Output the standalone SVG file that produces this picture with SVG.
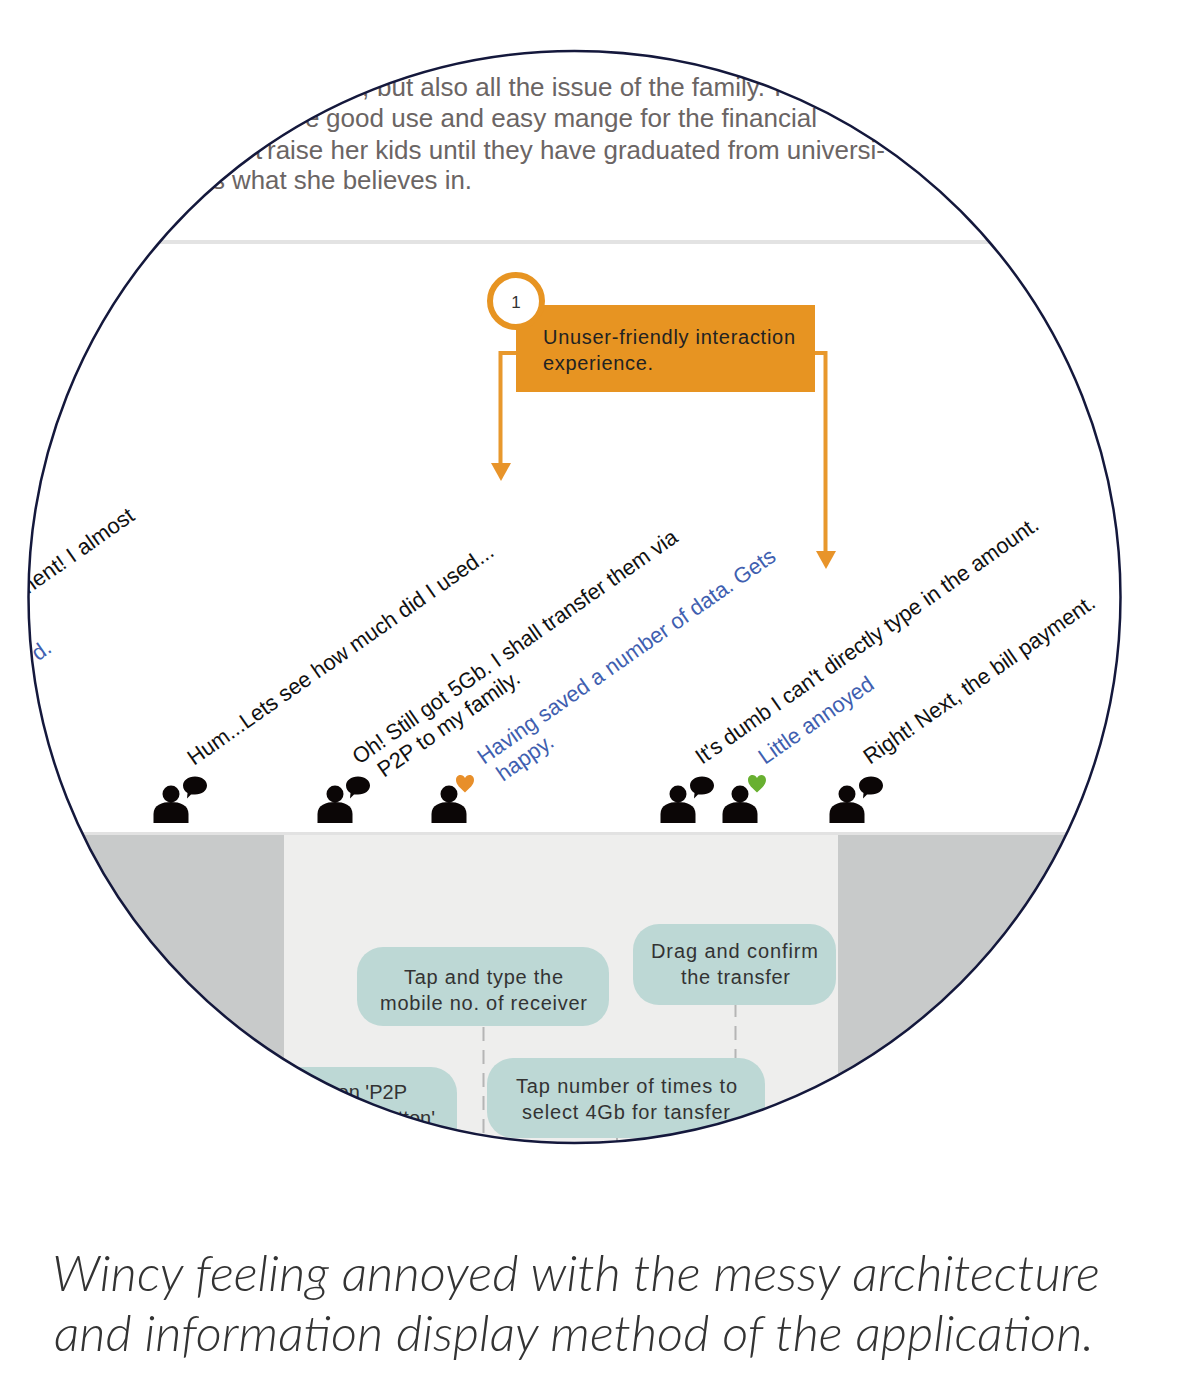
<svg xmlns="http://www.w3.org/2000/svg" width="1184" height="1373" viewBox="0 0 1184 1373">
<style>
text{font-family:"Liberation Sans",Arial,sans-serif}
.top{font-size:26px;fill:#6b6564}
.say{font-size:22px;fill:#111}
.feel{font-size:22px;fill:#3f5fb0}
.box{font-size:20px;fill:#222}
.pill{fill:#bdd8d5}
.pt{font-size:20px;fill:#333;text-anchor:middle}
.cap{font-family:"Lato","Open Sans",sans-serif;font-style:italic;font-weight:300;font-size:50px;fill:#333}
.dash{fill:none;stroke:#b5b5b5;stroke-width:2;stroke-dasharray:14 9}
.conn{fill:none;stroke:#e8982c;stroke-width:4}
.ah{fill:#e8942a}
.ink{fill:#0b0606}
</style>
<defs>
<clipPath id="lens"><circle cx="574.5" cy="597" r="546"/></clipPath>
<g id="person"><circle cx="0" cy="0" r="8.500"/><path d="M-17.500 29V20C-17.500 11-9 8 0 8S17.500 11 17.500 20V29Z"/></g>
<path id="bubble" d="M0-9.500C7-9.500 12-5.500 12-.5S7 8.500 0 8.500L-4 8.500L-8 12.500L-7.500 7C-10 5.500-12 3-12-.5C-12-5.500-7-9.500 0-9.500Z"/>
<path id="heart" d="M0 9.500C-4 5.500-9 2-9-3C-9-9-2-9.500 0-5C2-9.500 9-9 9-3C9 2 4 5.500 0 9.500Z"/>
</defs>
<rect width="1184" height="1373" fill="#fff"/>
<g clip-path="url(#lens)">
<g id="persona-text">
<text class="top" x="377" y="96" textLength="388" lengthAdjust="spacingAndGlyphs">but also all the issue of the family.</text>
<text class="top" x="362" y="96">,</text>
<text class="top" x="774" y="96">I</text>
<text class="top" x="326" y="127" textLength="491" lengthAdjust="spacingAndGlyphs">good use and easy mange for the financial</text>
<text class="top" x="305" y="127">e</text>
<text class="top" x="267" y="159" textLength="618" lengthAdjust="spacingAndGlyphs">raise her kids until they have graduated from universi-</text>
<text class="top" x="255" y="159">t</text>
<text class="top" x="232" y="189" textLength="240" lengthAdjust="spacingAndGlyphs">what she believes in.</text>
<text class="top" x="212" y="189">s</text>
<rect x="0" y="240" width="1184" height="4" fill="#e3e3e3"/>
</g>
<g id="lanes">
<rect x="0" y="832" width="1184" height="4" fill="#e2e2e2"/>
<rect x="0" y="835" width="284" height="320" fill="#c8caca"/>
<rect x="838" y="835" width="346" height="320" fill="#c8caca"/>
<rect x="284" y="835" width="554" height="320" fill="#eeeeed"/>
</g>
<g id="connectors">
<path class="conn" d="M516 353H500.500V466"/>
<path class="ah" d="M491 463H511L501 481Z"/>
<path class="conn" d="M815 353H825.500V553"/>
<path class="ah" d="M816 551H836L826 569Z"/>
<path class="dash" d="M483.500 1027V1155"/>
<path class="dash" d="M735.500 1003V1058"/>
<path class="dash" d="M617 1138V1155"/>
</g>
<g id="pain-point-1">
<rect x="516" y="305" width="299" height="87" fill="#e79422"/>
<circle cx="516" cy="301" r="26" fill="#fff" stroke="#e79422" stroke-width="6"/>
<text x="516" y="308" font-size="17" fill="#333" text-anchor="middle">1</text>
<text class="box" x="543" y="344" textLength="252" lengthAdjust="spacing">Unuser-friendly interaction</text>
<text class="box" x="543" y="370" textLength="110" lengthAdjust="spacing">experience.</text>
</g>
<g id="say-0"><text class="say" transform="translate(136 519) rotate(-35)" text-anchor="end">ment! I almost</text></g>
<g id="feel-0"><text class="feel" transform="translate(53 651) rotate(-35)" text-anchor="end">d.</text></g>
<g id="say-1" class="ink"><use href="#person" x="171" y="794"/><use href="#bubble" x="195" y="786"/>
<text class="say" transform="translate(194 766) rotate(-35)" textLength="368" lengthAdjust="spacingAndGlyphs">Hum...Lets see how much did I used...</text></g>
<g id="say-2" class="ink"><use href="#person" x="335" y="794"/><use href="#bubble" x="358" y="786"/>
<text class="say" transform="translate(359 765) rotate(-35)" textLength="391" lengthAdjust="spacingAndGlyphs">Oh! Still got 5Gb. I shall transfer them via</text>
<text class="say" transform="translate(384 778) rotate(-35)" textLength="168" lengthAdjust="spacingAndGlyphs">P2P to my family.</text></g>
<g id="feel-1"><use href="#person" class="ink" x="449" y="794"/><use href="#heart" x="465" y="783" fill="#e88f2a"/>
<text class="feel" transform="translate(484 765) rotate(-35)" textLength="358" lengthAdjust="spacingAndGlyphs">Having saved a number of data. Gets</text>
<text class="feel" transform="translate(503 782) rotate(-35)" textLength="64" lengthAdjust="spacingAndGlyphs">happy.</text></g>
<g id="say-3" class="ink"><use href="#person" x="678" y="794"/><use href="#bubble" x="702" y="786"/>
<text class="say" transform="translate(702 765) rotate(-35)" textLength="413" lengthAdjust="spacingAndGlyphs">It's dumb I can't directly type in the amount.</text></g>
<g id="feel-2"><use href="#person" class="ink" x="740" y="794"/><use href="#heart" x="757" y="783" fill="#68b030"/>
<text class="feel" transform="translate(765 765) rotate(-35)" textLength="135" lengthAdjust="spacingAndGlyphs">Little annoyed</text></g>
<g id="say-4" class="ink"><use href="#person" x="847" y="794"/><use href="#bubble" x="871" y="786"/>
<text class="say" transform="translate(870 765) rotate(-35)" textLength="277" lengthAdjust="spacingAndGlyphs">Right! Next, the bill payment.</text></g>
<g id="step-p2p"><rect class="pill" x="250" y="1067" width="207" height="100" rx="26"/>
<text class="pt" style="text-anchor:end" x="407" y="1099">on 'P2P</text>
<text class="pt" style="text-anchor:end" x="435" y="1125">button'</text></g>
<g id="step-mobile"><rect class="pill" x="357" y="947" width="252" height="79" rx="26"/>
<text class="pt" x="483.500" y="984" textLength="159" lengthAdjust="spacing">Tap and type the</text>
<text class="pt" x="483.500" y="1010" textLength="207" lengthAdjust="spacing">mobile no. of receiver</text></g>
<g id="step-confirm"><rect class="pill" x="633" y="924" width="203" height="81" rx="26"/>
<text class="pt" x="734.500" y="958" textLength="167" lengthAdjust="spacing">Drag and confirm</text>
<text class="pt" x="735.500" y="984" textLength="109" lengthAdjust="spacing">the transfer</text></g>
<g id="step-amount"><rect class="pill" x="487" y="1058" width="278" height="80" rx="26"/>
<text class="pt" x="626.500" y="1093" textLength="221" lengthAdjust="spacing">Tap number of times to</text>
<text class="pt" x="626" y="1119" textLength="208" lengthAdjust="spacing">select 4Gb for tansfer</text></g>
</g>
<circle id="lens-ring" cx="574.5" cy="597" r="546" fill="none" stroke="#14183c" stroke-width="2.500"/>
<g id="caption">
<text class="cap" x="52" y="1291" textLength="1048" lengthAdjust="spacingAndGlyphs">Wincy feeling annoyed with the messy architecture</text>
<text class="cap" x="54" y="1351" textLength="1040" lengthAdjust="spacingAndGlyphs">and information display method of the application.</text>
</g>
</svg>
